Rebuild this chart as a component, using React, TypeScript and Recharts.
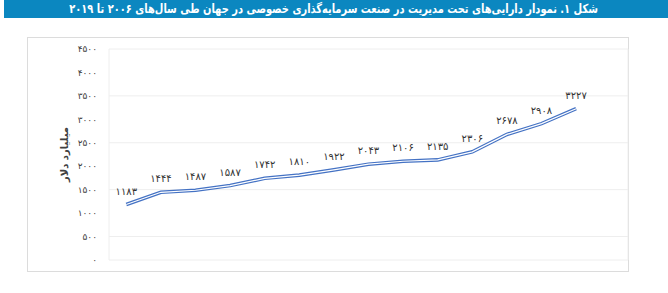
import { LineChart, Line, XAxis, YAxis, CartesianGrid, LabelList } from 'recharts'

const years = [2006, 2007, 2008, 2009, 2010, 2011, 2012, 2013, 2014, 2015, 2016, 2017, 2018, 2019]
const assets = [1183, 1444, 1487, 1587, 1742, 1810, 1922, 2043, 2106, 2135, 2306, 2678, 2908, 3227]
const yTicks = [0, 500, 1000, 1500, 2000, 2500, 3000, 3500, 4000, 4500]
// 15 columns in the grid, the last one is left empty
const slotTicks = [0, 1, 2, 3, 4, 5, 6, 7, 8, 9, 10, 11, 12, 13, 14, 15]

const title = 'شکل ۱. نمودار دارایی‌های تحت مدیریت در صنعت سرمایه‌گذاری خصوصی در جهان طی سال‌های ۲۰۰۶ تا ۲۰۱۹'
const yTitle = 'میلیارد دلار'

const faDigits = '۰۱۲۳۴۵۶۷۸۹'
const toFa = (v: any) => String(v).replace(/[0-9]/g, d => faDigits[Number(d)])

const data = years.map((year, i) => ({ year, slot: i + 0.5, value: assets[i] }))

export default function App() {
  return (
    <div style={{ position: 'absolute', left: 0, top: 0, width: 668, height: 293, background: '#fff', fontFamily: '"DejaVu Sans", sans-serif' }}>
      <div
        style={{
          position: 'absolute', left: 4, top: 0, width: 664, height: 18,
          background: '#0b87c0', color: '#fff', fontWeight: 'bold', fontSize: 12.5,
          lineHeight: '18px', textAlign: 'center', direction: 'rtl', whiteSpace: 'nowrap',
        }}
      >
        <span style={{ display: 'inline-block', transform: 'scaleX(0.79)', transformOrigin: 'center' }}>{title}</span>
      </div>
      <div
        style={{
          position: 'absolute', left: 27, top: 37, width: 602, height: 235,
          boxSizing: 'border-box', border: '1px solid #dcdcdc',
        }}
      />
      <div style={{ position: 'absolute', left: 28, top: 38 }}>
        <LineChart width={601} height={234} data={data} margin={{ top: 11, right: 1, left: 0, bottom: 12 }}>
          <CartesianGrid stroke="#eeeeee" strokeWidth={1} />
          <XAxis
            dataKey="slot"
            type="number"
            domain={[0, 15]}
            ticks={slotTicks}
            height={0}
            tick={false}
            axisLine={false}
            tickLine={false}
          />
          <YAxis
            width={81}
            domain={[0, 4500]}
            ticks={yTicks}
            tickFormatter={toFa}
            axisLine={false}
            tickLine={false}
            tickSize={6}
            tickMargin={6}
            tick={{ fontSize: 9, fill: '#404040' }}
            label={{ value: yTitle, angle: -90, position: 'center', dx: -4, fontSize: 10, fontWeight: 'bold', fill: '#404040' }}
          />
          <Line type="linear" dataKey="value" stroke="#4472c4" strokeWidth={3.6} dot={false} isAnimationActive={false} />
          <Line type="linear" dataKey="value" stroke="#ffffff" strokeWidth={1.2} dot={false} isAnimationActive={false}>
            <LabelList dataKey="value" position="top" offset={10} formatter={toFa} fontSize={10} fill="#333333" />
          </Line>
        </LineChart>
      </div>
    </div>
  )
}
